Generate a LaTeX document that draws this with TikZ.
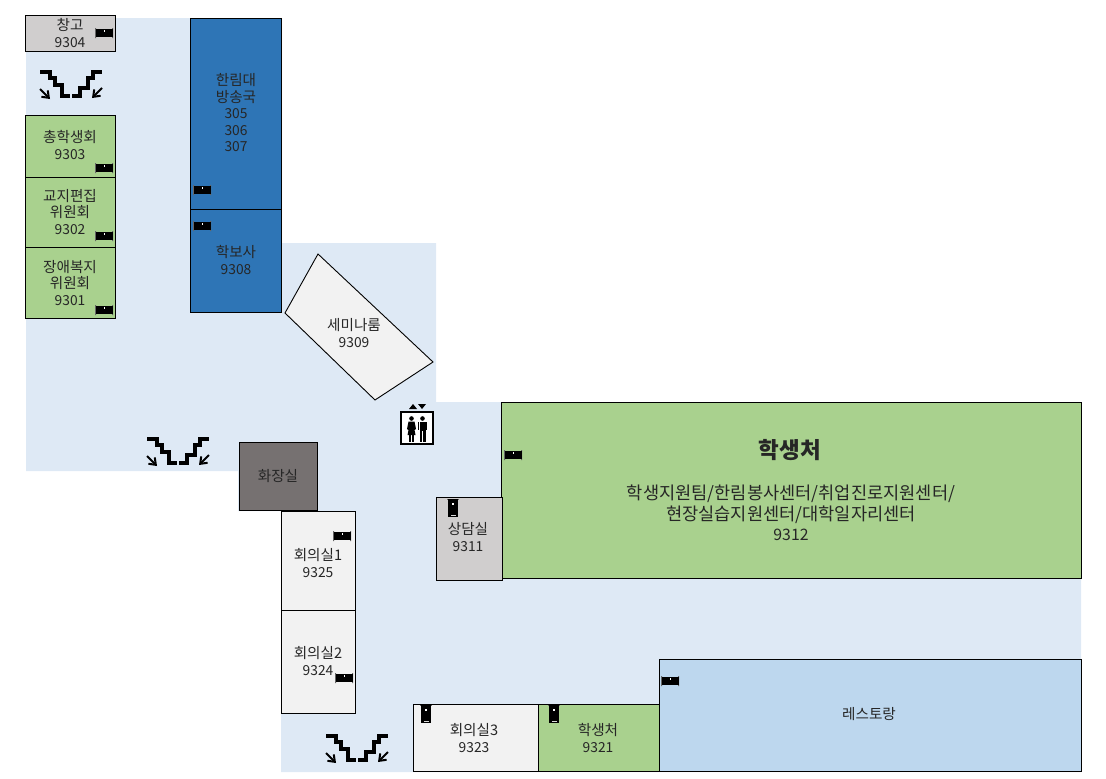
\documentclass[tikz,border=0pt]{standalone}
\usepackage{fontspec}
\setmainfont{Noto Sans CJK KR}
\usetikzlibrary{arrows.meta}
\definecolor{floorblue}{HTML}{DEE9F5}
\definecolor{roomgreen}{HTML}{A9D18E}
\definecolor{roomgrey}{HTML}{D0CECE}
\definecolor{roomwhite}{HTML}{F2F2F2}
\definecolor{roomblue}{HTML}{2E75B6}
\definecolor{roomdark}{HTML}{767171}
\definecolor{roomsky}{HTML}{BDD7EE}
\newcommand{\dg}[1]{{\fontsize{13.8}{16.5}\selectfont #1}}
\newcommand{\dgl}[1]{{\fontsize{15.8}{20.5}\selectfont #1}}
\tikzset{
  x=1pt,y=-1pt,
  room/.style={draw=black,line width=0.9pt,anchor=north west,inner sep=0pt,outer sep=0pt},
  roomtext/.style={align=center,font=\fontsize{14.6}{16.5}\selectfont,text=black!85,inner sep=0pt},
  hdoor/.pic={
    \fill[black!60] (-9,-5) rectangle (-8,5) (8,-5) rectangle (9,5);
    \fill[black] (-8.5,-4) rectangle (8.5,4);
    \fill[white] (-0.5,-3) rectangle (0.5,-1);
  },
  vdoor/.pic={
    \fill[black!60] (-6,-9) rectangle (6,-8);
    \fill[black] (-5,-9) rectangle (5,9);
    \fill[white] (-1,-5) rectangle (1,-3);
    \fill[black!15] (-2.5,7) rectangle (2.5,7.8);
  },
  stairset/.pic={
    \draw[line width=4.4pt,line join=miter]
      (-31,-13)--(-21,-13)--(-21,-7)--(-16,-7)--(-16,0)--(-9,0)--(-9,11)--(-1,11);
    \draw[line width=4.4pt,line join=miter]
      (1,11)--(9,11)--(9,3)--(17,3)--(17,-7)--(22,-7)--(22,-13)--(31,-13);
    \draw[line width=2pt,-{Straight Barb[length=6pt,width=9pt]}] (-31,4)--(-21,14);
    \draw[line width=2pt,-{Straight Barb[length=6pt,width=9pt]}] (31,3)--(21,13);
  },
}
\begin{document}
\begin{tikzpicture}
\useasboundingbox (0,0) rectangle (1106,779);
% floor
\fill[floorblue] (26,18)--(282,18)--(282,243)--(436,243)--(436,402)--(1081,402)--(1081,772)--(281,772)--(281,511)--(238,511)--(238,471)--(26,471)--cycle;
% rooms
\node[room,fill=roomgrey,minimum width=90.5,minimum height=36.5] (r9304) at (25,15) {};
\node[room,fill=roomgreen,minimum width=90.5,minimum height=62] (r9303) at (25,115) {};
\node[room,fill=roomgreen,minimum width=90.5,minimum height=70] (r9302) at (25,177) {};
\node[room,fill=roomgreen,minimum width=90.5,minimum height=71.5] (r9301) at (25,247) {};
\node[room,fill=roomblue,minimum width=91,minimum height=191] (r305) at (190.5,18) {};
\node[room,fill=roomblue,minimum width=91,minimum height=103.5] (r9308) at (190.5,209) {};
\filldraw[fill=roomwhite,draw=black,line width=0.9pt] (318,254)--(433,362)--(375,400)--(285,313)--cycle;
\node[room,fill=roomdark,minimum width=78.5,minimum height=68.5] (rwc) at (239,442) {};
\node[room,fill=roomwhite,minimum width=74.5,minimum height=99] (r9325) at (281,511) {};
\node[room,fill=roomwhite,minimum width=74.5,minimum height=103.5] (r9324) at (281,610) {};
\node[room,fill=roomgreen,minimum width=580,minimum height=176] (r9312) at (501.5,402.5) {};
\node[room,fill=roomgrey,minimum width=66,minimum height=83] (r9311) at (436.5,497) {};
\node[room,fill=roomwhite,minimum width=125,minimum height=67] (r9323) at (413,704.5) {};
\node[room,fill=roomgreen,minimum width=121,minimum height=67] (r9321) at (538,704.5) {};
\node[room,fill=roomsky,minimum width=422,minimum height=112] (rrest) at (659,659.5) {};
% labels
\node[roomtext] (t9304) at (70,33) {창고\\\dg{9304}};
\node[roomtext] (t9303) at (70,145) {총학생회\\\dg{9303}};
\node[roomtext] (t9302) at (70,212) {교지편집\\위원회\\\dg{9302}};
\node[roomtext] (t9301) at (70,283) {장애복지\\위원회\\\dg{9301}};
\node[roomtext] (t305) at (236,113) {한림대\\방송국\\\dg{305}\\\dg{306}\\\dg{307}};
\node[roomtext] (t9308) at (236,260) {학보사\\\dg{9308}};
\node[roomtext] (t9309) at (354,333) {세미나룸\\\dg{9309}};
\node[roomtext] (twc) at (278,476) {화장실};
\node[roomtext] (t9325) at (318,563) {회의실1\\\dg{9325}};
\node[roomtext] (t9324) at (318,661) {회의실2\\\dg{9324}};
\node[roomtext] (t9311) at (468,537) {상담실\\\dg{9311}};
\node[roomtext] (t9323) at (474,738) {회의실3\\\dg{9323}};
\node[roomtext] (t9321) at (598,738) {학생처\\\dg{9321}};
\node[roomtext] (trest) at (869,714) {레스토랑};
\node[roomtext,font=\fontsize{22.5}{26}\selectfont] (t9312a) at (790,450) {\textbf{학생처}};
\node[roomtext,font=\fontsize{17.6}{20.5}\selectfont] (t9312b) at (791,513) {학생지원팀/한림봉사센터/취업진로지원센터/\\현장실습지원센터/대학일자리센터\\\dgl{9312}};
% doors
\foreach \p in {(104,33),(104,168),(104,236),(104,310),(202,190),(202,226),(342,536),(344,678),(513,455),(670,681)}
  \pic at \p {hdoor};
\foreach \p in {(453,508),(426,714),(554,714)}
  \pic at \p {vdoor};
% stairs
\pic at (71,85) {stairset};
\pic at (178,452) {stairset};
\pic at (357,749) {stairset};
% elevator
\draw[line width=2pt,fill=white] (401,412) rectangle (433,444);
\fill (409,409)--(417,409)--(413,404)--cycle;
\fill (418,404)--(426,404)--(422,409)--cycle;
% woman
\fill (411.5,418.5) circle (2.3);
\fill (408.5,421.5)--(414.5,421.5)--(416,429)--(414.5,430)--(415.5,435)--(407.5,435)--(408.5,430)--(407,429)--cycle;
\fill (409.2,435) rectangle (411,441.5);
\fill (412,435) rectangle (413.8,441.5);
% man
\fill (422.5,418.5) circle (2.3);
\fill (419.5,421.5) rectangle (425.5,431);
\fill (417.7,422) rectangle (419,430);
\fill (426,422) rectangle (427.3,430);
\fill (419.5,431) rectangle (422,441.5);
\fill (423,431) rectangle (425.5,441.5);
\end{tikzpicture}
\end{document}
